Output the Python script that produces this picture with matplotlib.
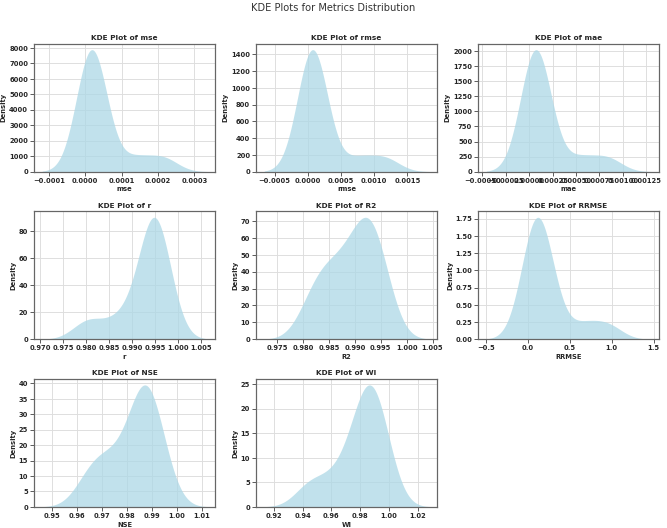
import matplotlib
matplotlib.use("Agg")
import matplotlib.pyplot as plt
import seaborn as sns

# metric values for each model
mse = [0.000001, 0.000004, 0.000007, 0.000010, 0.000014, 0.000018,
       0.000023, 0.000029, 0.000037, 0.000048, 0.000140, 0.000215]
rmse = [0.000001, 0.000011, 0.000022, 0.000032, 0.000049, 0.000065,
        0.000087, 0.000114, 0.000151, 0.000206, 0.000757, 0.001163]
mae = [0.0000039, 0.0000156, 0.0000272, 0.0000389, 0.0000545, 0.0000700,
       0.0000895, 0.0001128, 0.0001439, 0.0001867, 0.0005450, 0.0008360]
r = [0.9805, 0.9875, 0.9932, 0.9940, 0.9946, 0.9950, 0.9954, 0.9958, 0.9962]
R2 = [0.9816, 0.9840, 0.9862, 0.9886, 0.9905, 0.9920, 0.9930, 0.9940, 0.9952]
RRMSE = [0.020, 0.040, 0.060, 0.080, 0.100, 0.120,
         0.145, 0.175, 0.215, 0.270, 0.660, 0.950]
NSE = [0.9647, 0.9706, 0.9766, 0.9835, 0.9855, 0.9869, 0.9885, 0.9904, 0.9934]
WI = [0.945, 0.962, 0.976, 0.980, 0.984, 0.987, 0.990, 0.993, 0.996]

metric_names = ['mse', 'rmse', 'mae', 'r', 'R2', 'RRMSE', 'NSE', 'WI']
metric_values = [mse, rmse, mae, r, R2, RRMSE, NSE, WI]

sns.set_style('whitegrid')
plt.rcParams['font.family'] = ['DejaVu Sans']
plt.rcParams['font.weight'] = 'bold'

fig, axes = plt.subplots(3, 3, figsize=(15, 11.88), dpi=44.47)
axes = axes.flatten()

for i in range(len(metric_names)):
    ax = axes[i]
    sns.kdeplot(metric_values[i], fill=True, color='lightblue', alpha=0.75,
                linewidth=0, ax=ax)
    ax.set_title(f'KDE Plot of {metric_names[i]}', fontsize=12,
                 fontweight='bold', color='#262626')
    ax.set_xlabel(metric_names[i], fontsize=11, fontweight='bold', color='#262626')
    ax.set_ylabel('Density', fontsize=11, fontweight='bold', color='#262626')
    ax.tick_params(labelsize=11, length=6, width=1.5, color='#555555',
                   bottom=True, left=True, labelcolor='#262626')
    ax.grid(True, color='#dddddd', linewidth=1.5)
    for s in ax.spines.values():
        s.set_color('#666666')
        s.set_linewidth(2)

fig.delaxes(axes[8])

fig.suptitle('KDE Plots for Metrics Distribution', fontsize=16,
             fontweight='normal', color='#333333', y=0.995)
fig.subplots_adjust(left=0.051, right=0.988, top=0.917, bottom=0.040,
                    wspace=0.227, hspace=0.309)
fig.savefig('out.png', dpi=44.47)
